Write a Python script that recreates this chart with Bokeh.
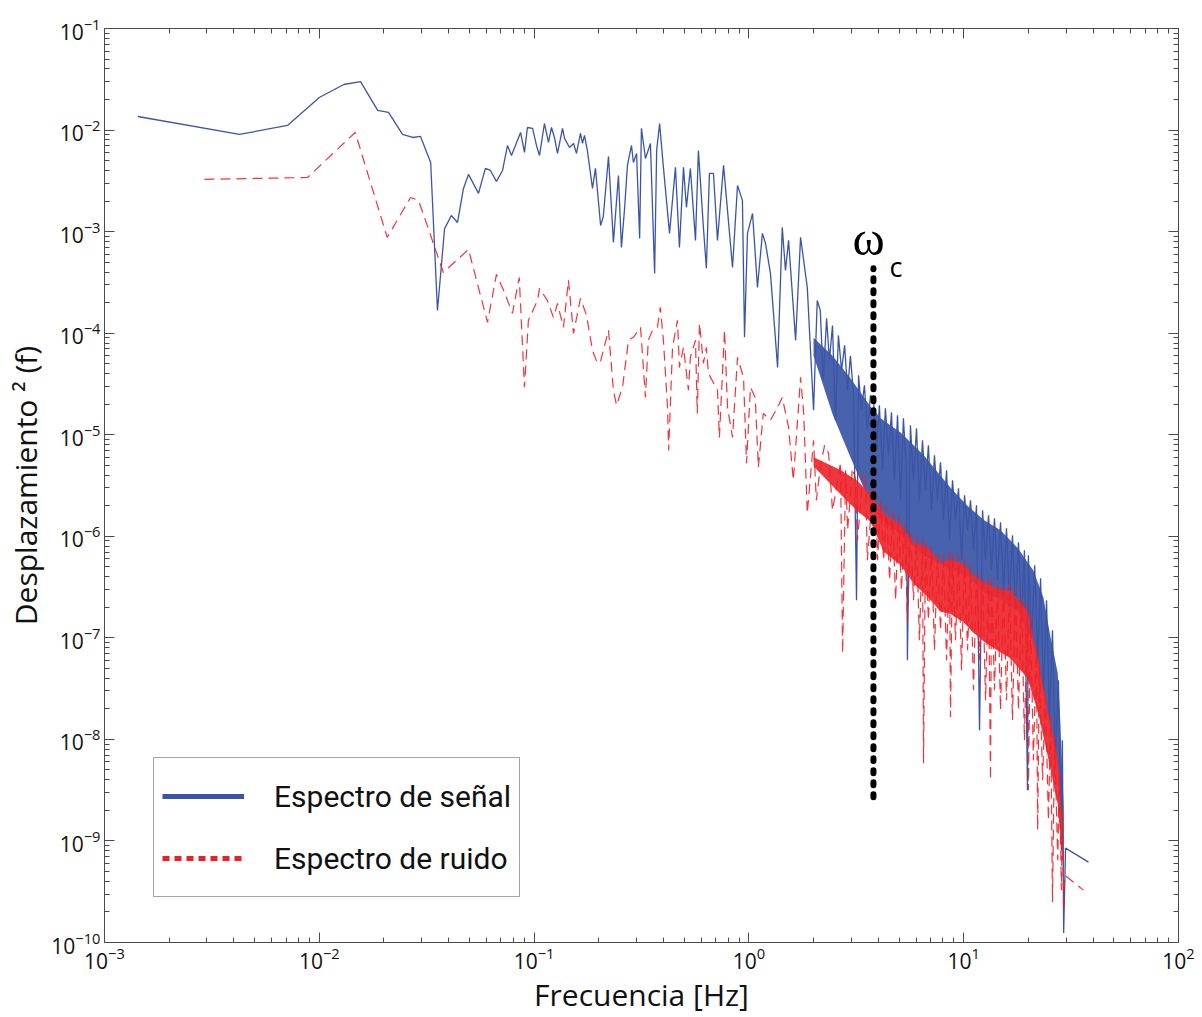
import numpy as np
from bokeh.plotting import figure
from bokeh.models import Legend, LegendItem, Label, LogAxis, FixedTicker, CustomJSTickFormatter
from bokeh.embed import file_html
from bokeh.resources import INLINE

# ---------------- data ----------------
signal_freq = [
    1.43e-3, 4.25e-3, 7.11e-3, 1.00e-2, 1.30e-2, 1.556e-2, 1.87e-2, 2.10e-2, 2.44e-2, 2.72e-2,
    2.96e-2, 3.30e-2, 3.55e-2, 3.83e-2, 4.12e-2, 4.40e-2, 4.69e-2, 4.95e-2, 5.51e-2, 5.93e-2,
    6.26e-2, 6.68e-2, 7.13e-2, 7.52e-2, 7.85e-2, 8.65e-2, 9.02e-2, 9.31e-2, 9.84e-2, 0.1026,
    0.106, 0.1117, 0.1167, 0.1205, 0.1244, 0.1285, 0.1356, 0.1386, 0.1462, 0.1526,
    0.1575, 0.1644, 0.168, 0.1716, 0.177, 0.187, 0.193, 0.204, 0.210, 0.222,
    0.234, 0.247, 0.255, 0.264, 0.272, 0.284, 0.290, 0.300, 0.310, 0.316,
    0.330, 0.348, 0.364, 0.372, 0.384, 0.400, 0.427, 0.455, 0.475, 0.496,
    0.512, 0.534, 0.564, 0.582, 0.614, 0.634, 0.655, 0.684, 0.714, 0.762,
    0.795, 0.839, 0.885, 0.933, 0.954, 0.985, 1.04, 1.096, 1.156, 1.195,
    1.26, 1.36, 1.43, 1.48, 1.53, 1.65, 1.74, 1.87, 2.0, 2.08,
    2.15, 2.22, 2.30, 2.37, 2.45, 2.53, 2.61, 2.70, 2.79, 2.88,
    2.97, 3.07, 3.17, 3.24, 3.34, 3.45, 3.56, 3.68,
    3.80, 3.93, 4.05, 4.19, 4.32, 4.47, 4.61, 4.76, 4.92, 5.08,
    5.24, 5.41, 5.47, 5.65, 5.84, 6.03, 6.22, 6.43, 6.64, 6.85,
    7.08, 7.31, 7.55, 7.80, 8.05, 8.32, 8.59, 8.87, 9.16, 9.46,
    9.77, 10.09, 10.42, 10.76, 11.11, 11.47, 11.85, 12.24, 12.64, 13.05,
    13.47, 13.91, 14.37, 14.84, 15.32, 15.82, 16.34, 16.87, 17.42, 17.99,
    18.58, 19.18, 19.81, 20.0, 20.7, 21.4, 22.1, 22.8, 23.5, 24.3,
    25.1, 25.9, 26.7, 27.6, 28.5, 28.8, 29.2, 29.8, 38.1,
]
signal_amp = [
    1.36e-2, 9.06e-3, 1.11e-2, 2.09e-2, 2.81e-2, 3.0e-2, 1.56e-2, 1.49e-2, 9.06e-3, 8.45e-3,
    8.65e-3, 4.8e-3, 1.67e-4, 1.07e-3, 1.44e-3, 1.23e-3, 2.66e-3, 3.66e-3, 2.38e-3, 4.19e-3,
    4.0e-3, 3.12e-3, 4.0e-3, 7.05e-3, 5.62e-3, 9.47e-3, 6.02e-3, 1.06e-2, 1.04e-2, 7.05e-3,
    5.62e-3, 1.16e-2, 7.55e-3, 1.06e-2, 8.45e-3, 5.89e-3, 1.04e-2, 8.27e-3, 6.74e-3, 7.38e-3,
    5.89e-3, 9.27e-3, 7.38e-3, 8.85e-3, 6.3e-3, 2.66e-3, 4.19e-3, 1.15e-3, 1.41e-3, 5.5e-3,
    7.83e-4, 3.57e-3, 6.99e-4, 1.73e-3, 4.49e-3, 7.05e-3, 4.8e-3, 5.89e-3, 8.57e-4, 1.04e-2,
    5.25e-3, 7.38e-3, 3.88e-4, 6.3e-3, 1.16e-2, 4.29e-3, 9.6e-4, 4.29e-3, 6.99e-4, 4.29e-3,
    1.73e-3, 4.19e-3, 8.19e-4, 6.3e-3, 1.1e-3, 4.35e-4, 3.74e-3, 3.74e-3, 8.19e-4, 4.49e-3,
    1.62e-3, 4.44e-4, 2.85e-3, 2.03e-3, 9.1e-5, 9.6e-4, 1.51e-3, 2.82e-4, 9.6e-4, 7.65e-4,
    3.88e-4, 4.6e-5, 1.1e-3, 4.15e-4, 8.19e-4, 8.5e-5, 8.77e-4, 2.82e-4, 1.74e-5, 2.1e-4,
    1.67e-4, 3.43e-5, 1.4e-4, 5.4e-5, 1.19e-4, 1.39e-5, 9.5e-5, 4.3e-5, 7.6e-5, 2.74e-5,
    6.0e-5, 2.44e-5, 2.34e-7, 3.85e-5, 1.74e-5, 3.06e-5, 1.1e-5, 2.44e-5,
    2.28e-5, 7.02e-6, 1.95e-5, 4.47e-6, 1.82e-5, 6.27e-6, 1.66e-5, 3.56e-6, 1.55e-5, 2.26e-6,
    1.45e-5, 4.47e-6, 6.03e-8, 1.24e-5, 3.56e-6, 1.16e-5, 2.26e-6, 8.81e-6, 2.84e-6, 7.87e-6,
    1.80e-6, 6.27e-6, 2.26e-6, 5.35e-6, 1.44e-6, 4.47e-6, 9.12e-7, 3.56e-6, 1.44e-6, 2.97e-6,
    5.81e-7, 2.53e-6, 1.15e-6, 2.26e-6, 7.28e-7, 2.02e-6, 1.23e-8, 1.80e-6, 5.81e-7, 1.61e-6,
    4.62e-7, 1.50e-6, 3.69e-7, 1.37e-6, 2.94e-7, 1.20e-6, 2.35e-7, 1.02e-6, 1.87e-7, 8.73e-7,
    1.49e-7, 7.28e-7, 3.16e-9, 6.50e-7, 9.46e-8, 5.18e-7, 6.03e-8, 3.86e-7, 3.05e-8, 2.35e-7,
    1.55e-8, 1.19e-7, 6.24e-9, 3.83e-8, 8.1e-10, 9.82e-9, 1.24e-10, 8.5e-10, 6.18e-10,
]

noise_freq = [
    2.92e-3, 8.81e-3, 1.47e-2, 2.07e-2, 2.66e-2, 2.9e-2, 3.78e-2, 4.95e-2, 6.07e-2, 6.68e-2,
    7.21e-2, 7.93e-2, 8.53e-2, 9.02e-2, 9.41e-2, 0.1037, 0.106, 0.1153, 0.123, 0.1285,
    0.137, 0.1445, 0.1526, 0.1644, 0.1754, 0.187, 0.197, 0.204, 0.222, 0.234,
    0.242, 0.258, 0.275, 0.290, 0.313, 0.330, 0.340, 0.356, 0.375, 0.387,
    0.400, 0.418, 0.423, 0.441, 0.465, 0.475, 0.496, 0.523, 0.534, 0.564,
    0.575, 0.589, 0.614, 0.634, 0.648, 0.714, 0.729, 0.770, 0.795, 0.839,
    0.885, 0.944, 0.975, 1.017, 1.07, 1.107, 1.167, 1.26, 1.36, 1.43,
    1.53, 1.61, 1.74, 1.80, 1.87, 2.0, 2.06, 2.15, 2.25, 2.35,
    2.45, 2.58, 2.67, 2.73, 2.82, 2.88, 2.97, 3.03, 3.13, 3.20,
    3.31, 3.38, 3.49, 3.56, 3.68, 3.77, 3.88, 3.97,
    4.10, 4.24, 4.37, 4.52, 4.66, 4.82, 4.97, 5.13, 5.30, 5.47,
    5.65, 5.84, 6.03, 6.22, 6.43, 6.50, 6.64, 6.85, 7.08, 7.31,
    7.55, 7.80, 8.05, 8.32, 8.59, 8.68, 8.87, 9.16, 9.46, 9.77,
    10.09, 10.42, 10.76, 11.11, 11.47, 11.85, 12.24, 12.64, 13.05, 13.33,
    13.47, 13.91, 14.37, 14.84, 15.32, 15.82, 16.34, 16.87, 17.42, 17.99,
    18.58, 19.18, 19.81, 20.0, 20.5, 21.1, 21.8, 22.1, 22.5, 23.3,
    24.0, 24.8, 25.4, 25.9, 26.5, 27.4, 27.9, 28.5, 28.8, 29.2,
    29.5, 36.1,
]
noise_amp = [
    3.27e-3, 3.41e-3, 9.47e-3, 8.77e-4, 2.17e-3, 2.03e-3, 3.96e-4, 6.68e-4, 1.28e-4, 3.79e-4,
    2.64e-4, 1.57e-4, 3.54e-4, 2.93e-5, 1.34e-4, 2.1e-4, 2.76e-4, 2.1e-4, 1.43e-4, 1.96e-4,
    1.14e-4, 3.31e-4, 9.96e-5, 2.2e-4, 1.5e-4, 6.77e-5, 5.05e-5, 5.3e-5, 1.07e-4, 2.74e-5,
    1.95e-5, 2.93e-5, 8.5e-5, 9.1e-5, 1.14e-4, 2.33e-5, 8.5e-5, 1.07e-4, 1.14e-4, 1.8e-4,
    8.5e-5, 1.86e-5, 7.0e-6, 7.25e-5, 1.34e-4, 4.6e-5, 7.25e-5, 2.74e-5, 5.78e-5, 8.5e-5,
    1.62e-5, 1.25e-4, 5.05e-5, 7.25e-5, 4.02e-5, 2.74e-5, 9.4e-6, 1.07e-4, 1.86e-5, 9.4e-6,
    5.78e-5, 3.67e-5, 5.23e-6, 2.93e-5, 2.33e-5, 4.78e-6, 1.62e-5, 1.39e-5, 1.86e-5, 2.33e-5,
    1.18e-5, 3.56e-6, 3.67e-5, 1.62e-5, 1.68e-6, 8.8e-6, 2.26e-6, 4.78e-6, 7.87e-6, 6.56e-6,
    1.80e-6, 3.33e-6, 5.35e-6, 7.05e-8, 4.47e-6, 1.15e-6, 2.53e-6, 4.67e-6, 3.72e-6, 9.1e-7,
    2.02e-6, 4.26e-6, 3.56e-6, 5.81e-7, 1.44e-6, 3.72e-6, 2.84e-6, 5.81e-7,
    2.26e-6, 5.81e-7, 1.97e-6, 3.69e-7, 1.76e-6, 2.35e-7, 1.61e-6, 2.94e-7, 1.37e-6, 1.49e-7,
    1.15e-6, 2.35e-7, 1.0e-6, 9.46e-8, 9.55e-7, 5.83e-9, 8.93e-7, 1.49e-7, 7.98e-7, 7.55e-8,
    6.81e-7, 1.19e-7, 6.81e-7, 6.03e-8, 6.97e-7, 1.66e-8, 6.81e-7, 9.46e-8, 6.5e-7, 4.8e-8,
    5.94e-7, 7.55e-8, 5.18e-7, 3.05e-8, 4.62e-7, 6.03e-8, 4.13e-7, 2.43e-8, 3.86e-7, 3.96e-9,
    3.69e-7, 3.05e-8, 3.52e-7, 1.94e-8, 3.44e-7, 2.43e-8, 3.44e-7, 1.55e-8, 3.08e-7, 1.94e-8,
    2.56e-7, 9.82e-9, 2.19e-7, 3.16e-9, 1.67e-7, 6.24e-9, 8.45e-8, 1.28e-9, 6.03e-8, 3.96e-9,
    3.05e-8, 1.6e-9, 1.73e-8, 2.5e-10, 1.1e-8, 6.47e-10, 4.98e-9, 3.28e-10, 2.01e-9, 2.08e-10,
    4.6e-10, 3.28e-10,
]

# solid core of the densely packed high-frequency part of each spectrum
signal_band_freq = [2.0, 2.45, 2.97, 3.68, 4.10, 5.08, 6.50, 8.68, 10.4, 12.4, 14.8, 17.8, 21.1, 23.5, 25.4, 27.4, 28.2, 29.2]
signal_band_high = [9.0e-5, 6.0e-5, 3.6e-5, 1.9e-5, 1.45e-5, 1.05e-5, 6.3e-6, 3.0e-6, 2.0e-6, 1.45e-6, 1.15e-6, 7.7e-7, 4.6e-7, 2.5e-7, 1.0e-7, 4.5e-8, 1.45e-8, 2.1e-9]
signal_band_low = [6.0e-5, 1.6e-5, 6.0e-6, 2.1e-6, 1.5e-6, 1.05e-6, 6.5e-7, 4.7e-7, 4.1e-7, 2.8e-7, 2.4e-7, 1.85e-7, 9.0e-8, 2.8e-8, 1.2e-8, 5.3e-9, 2.4e-9, 4.0e-10]

noise_band_freq = [2.0, 2.67, 3.2, 3.68, 4.24, 5.08, 5.85, 6.78, 7.80, 8.68, 9.98, 11.1, 12.4, 14.8, 16.5, 19.8, 22.1, 24.5, 27.4, 28.8]
noise_band_high = [6.0e-6, 4.5e-6, 3.5e-6, 2.6e-6, 1.7e-6, 1.3e-6, 8.7e-7, 7.7e-7, 5.5e-7, 5.9e-7, 5.3e-7, 4.1e-7, 3.5e-7, 3.0e-7, 2.9e-7, 1.85e-7, 6.4e-8, 2.05e-8, 6.6e-9, 1.45e-9]
noise_band_low = [4.9e-6, 2.6e-6, 1.77e-6, 1.4e-6, 7.1e-7, 5.2e-7, 3.4e-7, 2.55e-7, 1.82e-7, 1.72e-7, 1.42e-7, 1.12e-7, 9.2e-8, 7.2e-8, 6.3e-8, 4.0e-8, 1.9e-8, 7.2e-9, 2.3e-9, 6.2e-10]

omega_c_freq = 3.80
omega_c_span = [2.7e-9, 4.35e-4]

x_decades = [1e-3, 1e-2, 1e-1, 1e0, 1e1, 1e2]
y_decades = [1e-10, 1e-9, 1e-8, 1e-7, 1e-6, 1e-5, 1e-4, 1e-3, 1e-2, 1e-1]

legend_labels = ["Espectro de señal", "Espectro de ruido"]
x_label = "Frecuencia [Hz]"
y_label = "Desplazamiento ² (f)"

BLUE = "#3a55a6"
RED = "#ec1f27"
RED_BAND = "#ee2b31"
AXIS = "#4a4a4a"
FONT = "Open Sans"

p = figure(width=1202, height=1017, x_axis_type="log", y_axis_type="log",
           x_range=(1e-3, 1e2), y_range=(1e-10, 1e-1),
           output_backend="svg", toolbar_location=None,
           min_border_left=104, min_border_right=24, min_border_top=28, min_border_bottom=75)
p.background_fill_color = "white"
p.border_fill_color = "white"
p.outline_line_color = AXIS
p.xgrid.visible = False
p.ygrid.visible = False


def minor(decades):
    return [k * d for d in decades[:-1] for k in range(2, 10)]


xt = FixedTicker(ticks=x_decades, minor_ticks=minor(x_decades))
yt = FixedTicker(ticks=y_decades, minor_ticks=minor(y_decades))

xaxis = p.below[0]
yaxis = p.left[0]
xaxis.ticker = xt
yaxis.ticker = yt
blank = CustomJSTickFormatter(code="return '';")
p.add_layout(LogAxis(ticker=xt, formatter=blank, major_label_standoff=0), "above")
p.add_layout(LogAxis(ticker=yt, formatter=blank, major_label_standoff=0), "right")

for ax in p.axis:
    ax.axis_line_color = AXIS
    ax.major_tick_line_color = AXIS
    ax.minor_tick_line_color = AXIS
    ax.major_tick_in = 10
    ax.major_tick_out = 0
    ax.minor_tick_in = 5
    ax.minor_tick_out = 0
    ax.major_label_text_font = FONT
    ax.major_label_text_font_size = "21px"
    ax.major_label_text_color = "#111111"
    ax.axis_label_text_font = FONT
    ax.axis_label_text_font_style = "normal"
    ax.axis_label_text_font_size = "30px"
    ax.axis_label_text_color = "#111111"

xaxis.axis_label = x_label
yaxis.axis_label = y_label
xaxis.major_label_standoff = 4
yaxis.major_label_standoff = 4
xaxis.axis_label_standoff = 2
yaxis.axis_label_standoff = 2

# signal spectrum
p.varea(x=signal_band_freq, y1=signal_band_low, y2=signal_band_high, fill_color=BLUE, fill_alpha=0.92)
p.line(signal_freq, signal_amp, line_color=BLUE, line_width=1.3)

# noise spectrum
p.varea(x=noise_band_freq, y1=noise_band_low, y2=noise_band_high, fill_color=RED_BAND, fill_alpha=0.95)
p.line(noise_freq, noise_amp, line_color=RED, line_width=1.2, line_dash="10 6", line_alpha=0.9)

# cut-off frequency marker
p.line([omega_c_freq, omega_c_freq], omega_c_span, line_color="black", line_width=6,
       line_dash="3 9", line_cap="round")
p.add_layout(Label(x=omega_c_freq, y=omega_c_span[1], text="ω", x_offset=-21, y_offset=30,
                   text_font="Liberation Serif", text_font_size="49px", text_color="black",
                   text_baseline="alphabetic"))
p.add_layout(Label(x=omega_c_freq, y=omega_c_span[1], text="c", x_offset=16, y_offset=2,
                   text_font=FONT, text_font_size="27px", text_color="black",
                   text_baseline="alphabetic"))

# legend (thick sample lines as in the original)
leg_sig = p.line([np.nan], [np.nan], line_color=BLUE, line_width=5)
leg_noi = p.line([np.nan], [np.nan], line_color=RED, line_width=5, line_dash="7 5")
legend = Legend(items=[LegendItem(label=legend_labels[0], renderers=[leg_sig]),
                       LegendItem(label=legend_labels[1], renderers=[leg_noi])],
                location=(49, 45), margin=0, padding=8, spacing=2,
                glyph_width=82, glyph_height=60, label_height=60, label_standoff=30,
                label_text_font="Roboto", label_text_font_size="30px",
                label_text_color="#111111",
                border_line_color="#4d4d4d", border_line_width=1,
                background_fill_color="white", background_fill_alpha=1.0)
p.add_layout(legend)

open("out.html", "w").write(file_html(p, INLINE))
